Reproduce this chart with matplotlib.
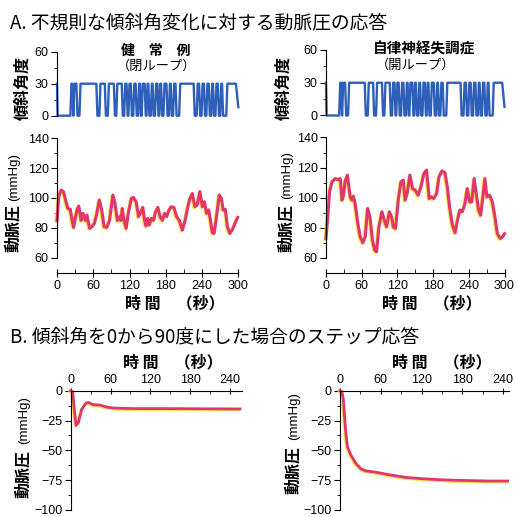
import numpy as np
import matplotlib
matplotlib.use("Agg")
import matplotlib.pyplot as plt
import matplotlib.patheffects as pe
from matplotlib.ticker import MultipleLocator

JP = ['Noto Sans CJK JP', 'DejaVu Sans']
plt.rcParams['font.family'] = ['Liberation Sans', 'DejaVu Sans']

# tilt pulses (start, end) in seconds where angle = 30 deg
tilt_pulses = [(23, 26), (28, 33), (38, 66), (71, 80), (85, 95), (99, 108),
               (112, 116), (119, 123), (127, 131), (135, 138), (141, 146),
               (149, 152), (156, 159), (163, 167), (170, 173), (177, 182),
               (186, 189), (193, 197), (203, 227), (232, 236), (240, 244),
               (248, 252), (256, 259), (263, 267), (271, 274), (281, 297)]
tilt_end_value = 8

# arterial pressure, healthy (closed loop)
bp_healthy_t = [0, 3, 7, 11, 15, 18, 22, 25, 27.5, 33, 36, 40, 43, 47, 49.5, 54, 58, 62,
                66, 70, 74, 78, 82.5, 87, 92.5, 96, 100, 103.5, 106, 108, 111, 114.5,
                118, 123, 126.5, 131, 135, 139, 142, 145, 147.5, 150, 153, 156, 160,
                163, 167, 170.5, 174.5, 178, 181.5, 185.5, 189, 193.5, 198, 202.5,
                207.5, 212, 216, 220, 224, 228, 232, 236.5, 240.5, 244, 247.5, 251,
                254, 257, 260, 264, 268.5, 272, 275, 278.5, 282, 286, 290, 294.5, 299]
bp_healthy = [85, 101, 105.4, 104, 97.5, 93, 92.4, 85, 80.3, 92, 94.6, 85, 89.7, 85, 88.6,
              79.7, 80.8, 83, 89.7, 98.7, 92, 80.8, 80.3, 85, 102, 96.4, 85, 87.5, 85,
              93, 85, 79.7, 89.7, 99.8, 100.4, 97.5, 87.5, 90.8, 93.7, 85, 81.2, 86.4,
              82, 86.4, 85, 90.8, 93.7, 87.5, 85, 89.7, 87.5, 92, 94.2, 93.7, 87.5, 85,
              78.5, 85, 93, 99.8, 103, 94.2, 95.3, 104.3, 94.2, 97.5, 89.7, 92, 85,
              76.8, 76.3, 87.5, 102, 99.8, 92, 92.4, 80.8, 76.3, 78.5, 83, 87]

# arterial pressure, autonomic failure (open loop)
bp_auto_t = [0, 3, 6, 10, 15.6, 20, 24, 27, 29.5, 32, 36, 40.7, 43.5, 46, 49, 53.5, 57.5,
             62, 66, 70, 74, 78, 82, 85, 89, 94, 98, 102, 106.5, 110.5, 113, 117, 121.5,
             126, 130, 133, 136.5, 141, 145.5, 150, 155, 159.5, 164.5, 169, 173.5, 177,
             181, 186, 190, 195, 200, 204, 208, 212.5, 217, 221, 225, 229, 233, 237.5,
             241.5, 245, 249, 252.5, 256.5, 260, 264, 267, 270.5, 275, 279.5, 284, 288,
             293, 297, 300]
bp_auto = [72.8, 87, 104, 110.5, 112.7, 112, 112.7, 98.3, 101.6, 110.5, 115, 100.5, 98.3,
           101, 96, 82.8, 74, 70, 74, 92.8, 87, 71.7, 65, 64, 80.6, 90.6, 85, 80.6, 90.6,
           87, 80.6, 79.5, 98.3, 110.5, 111.6, 98.3, 102.8, 115, 106, 105, 101.6, 107,
           116, 118.3, 99.4, 100.5, 99.4, 102.8, 113.8, 117.8, 116.5, 107, 92.8, 81.7,
           76.6, 85, 91.7, 90.6, 95, 106, 97.2, 97.2, 112.7, 102.8, 91.7, 88.3, 101.6,
           112.7, 100.5, 101.6, 97.2, 87, 76, 72.8, 74, 76]

# step response 0 -> 90 deg
step_healthy_t = [0, 3, 5, 8, 11.5, 16.5, 23, 26.6, 34, 44, 54, 64, 94, 145, 255]
step_healthy = [0, -1, -13, -29, -26.8, -15.8, -10.4, -9.8, -11.7, -12, -13.7, -14.5,
                -15, -15, -15.3]
step_auto_t = [0, 3, 5, 7, 9, 11, 16, 23.5, 31, 38, 53, 72.5, 97, 121.5, 146, 170.6,
               195, 219.6, 246.6]
step_auto = [0, -1, -7.7, -24, -37.7, -47, -54, -61, -65.6, -67.2, -68.3, -70.5, -72.7,
             -73.8, -74.6, -75.1, -75.4, -75.7, -75.7]

W, H = 516, 517
BLUE = '#2e5fba'
RED = '#e2356a'
shadow = [pe.SimpleLineShadow(offset=(-0.7, -0.8), shadow_color='#f2e23a', alpha=0.85),
          pe.Normal()]


def rect(x0, y0, x1, y1):
    # pixel box (top-left origin) -> figure fraction rect
    return [x0 / W, 1 - y1 / H, (x1 - x0) / W, (y1 - y0) / H]


def px(x, y):
    return x / W, 1 - y / H


def tilt_line(pulses, end_value):
    t, v = [0, 1], [30, 0]
    for a, b in pulses:
        t += [a - 0.9, a + 0.9, b - 0.9, b + 0.9]
        v += [0, 30, 30, 0]
    t[-1] = 300
    v[-1] = end_value
    return t, v


fig = plt.figure(figsize=(W / 100, H / 100), dpi=100)


def tilt_axes(box):
    ax = fig.add_axes(box)
    t, v = tilt_line(tilt_pulses, tilt_end_value)
    ax.plot(t, v, color=BLUE, lw=1.7, clip_on=False)
    ax.set_xlim(0, 300)
    ax.set_ylim(0, 60)
    for s in ['top', 'right', 'bottom']:
        ax.spines[s].set_visible(False)
    ax.set_xticks([])
    ax.set_yticks([0, 30, 60])
    ax.yaxis.set_minor_locator(MultipleLocator(15))
    ax.tick_params(axis='y', which='major', length=4, labelsize=9, pad=2)
    ax.tick_params(axis='y', which='minor', length=2)
    ax.patch.set_alpha(0)
    return ax


def bp_axes(box, t, v):
    ax = fig.add_axes(box)
    ax.plot(t, v, color=RED, lw=2.2, path_effects=shadow, clip_on=False)
    ax.set_xlim(0, 300)
    ax.set_ylim(60, 140)
    for s in ['top', 'right']:
        ax.spines[s].set_visible(False)
    ax.spines['bottom'].set_position(('outward', 11))
    ax.set_xticks(range(0, 301, 60))
    ax.xaxis.set_minor_locator(MultipleLocator(30))
    ax.set_yticks(range(60, 141, 20))
    ax.yaxis.set_minor_locator(MultipleLocator(10))
    ax.tick_params(axis='y', which='major', length=4, labelsize=9, pad=2)
    ax.tick_params(axis='y', which='minor', length=2)
    ax.tick_params(axis='x', which='major', direction='inout', length=6, labelsize=9, pad=2)
    ax.tick_params(axis='x', which='minor', direction='in', length=3)
    ax.patch.set_alpha(0)
    return ax


def step_axes(box, t, v, xmax):
    ax = fig.add_axes(box)
    ax.plot(t, v, color=RED, lw=2.0, path_effects=shadow, clip_on=False)
    ax.set_xlim(0, xmax)
    ax.set_ylim(-100, 0)
    for s in ['bottom', 'right']:
        ax.spines[s].set_visible(False)
    ax.xaxis.tick_top()
    ax.set_xticks(range(0, 241, 60))
    ax.xaxis.set_minor_locator(MultipleLocator(30))
    ax.set_yticks(range(-100, 1, 25))
    ax.yaxis.set_minor_locator(MultipleLocator(12.5))
    ax.tick_params(axis='y', which='major', length=4, labelsize=9, pad=2)
    ax.tick_params(axis='y', which='minor', length=2)
    ax.tick_params(axis='x', which='major', direction='inout', length=5, labelsize=9, pad=1)
    ax.tick_params(axis='x', which='minor', direction='in', length=2)
    ax.patch.set_alpha(0)
    return ax


tilt_axes(rect(57, 51.7, 238.3, 115.7))
tilt_axes(rect(326, 50, 504.5, 115.5))
bp_axes(rect(57, 138.3, 238.3, 257.7), bp_healthy_t, bp_healthy)
bp_axes(rect(326, 137.5, 504.5, 257.7), bp_auto_t, bp_auto)
step_axes(rect(70.7, 390.7, 241.7, 510), step_healthy_t, step_healthy, 257.6)
step_axes(rect(340, 390.7, 509.3, 510), step_auto_t, step_auto, 249)

# panel titles
fig.text(*px(10, 23), 'A. 不規則な傾斜角変化に対する動脈圧の応答', family=JP, fontsize=13.5,
         ha='left', va='center')
fig.text(*px(10, 337), 'B. 傾斜角を0から90度にした場合のステップ応答', family=JP, fontsize=13.5,
         ha='left', va='center')

# group headers
fig.text(*px(156, 51), '健　常　例', family=JP, fontsize=10, weight='bold', ha='center', va='center')
fig.text(*px(157, 66), '（閉ループ）', family=JP, fontsize=9.5, ha='center', va='center')
fig.text(*px(424, 49), '自律神経失調症', family=JP, fontsize=10.5, weight='bold', ha='center', va='center')
fig.text(*px(416, 65), '（開ループ）', family=JP, fontsize=9.5, ha='center', va='center')

# axis labels
for x in (22, 283):
    fig.text(*px(x, 88), '傾斜角度', family=JP, fontsize=11.5, weight='bold', rotation=90,
             ha='center', va='center')

for x, y_jp, y_unit in [(13, 228, 177), (286, 228, 175), (23, 474, 420), (293, 470, 416)]:
    fig.text(*px(x, y_jp), '動脈圧', family=JP, fontsize=11.5, weight='bold', rotation=90,
             ha='center', va='center')
    fig.text(*px(x + 1, y_unit), '(mmHg)', fontsize=9.5, rotation=90, ha='center', va='center')

for x, y in [(175, 303), (432, 303), (173, 362), (442, 362)]:
    fig.text(*px(x, y), '時 間　（秒）', family=JP, fontsize=11.5, weight='bold',
             ha='center', va='center')

fig.savefig('out.png', dpi=100)
